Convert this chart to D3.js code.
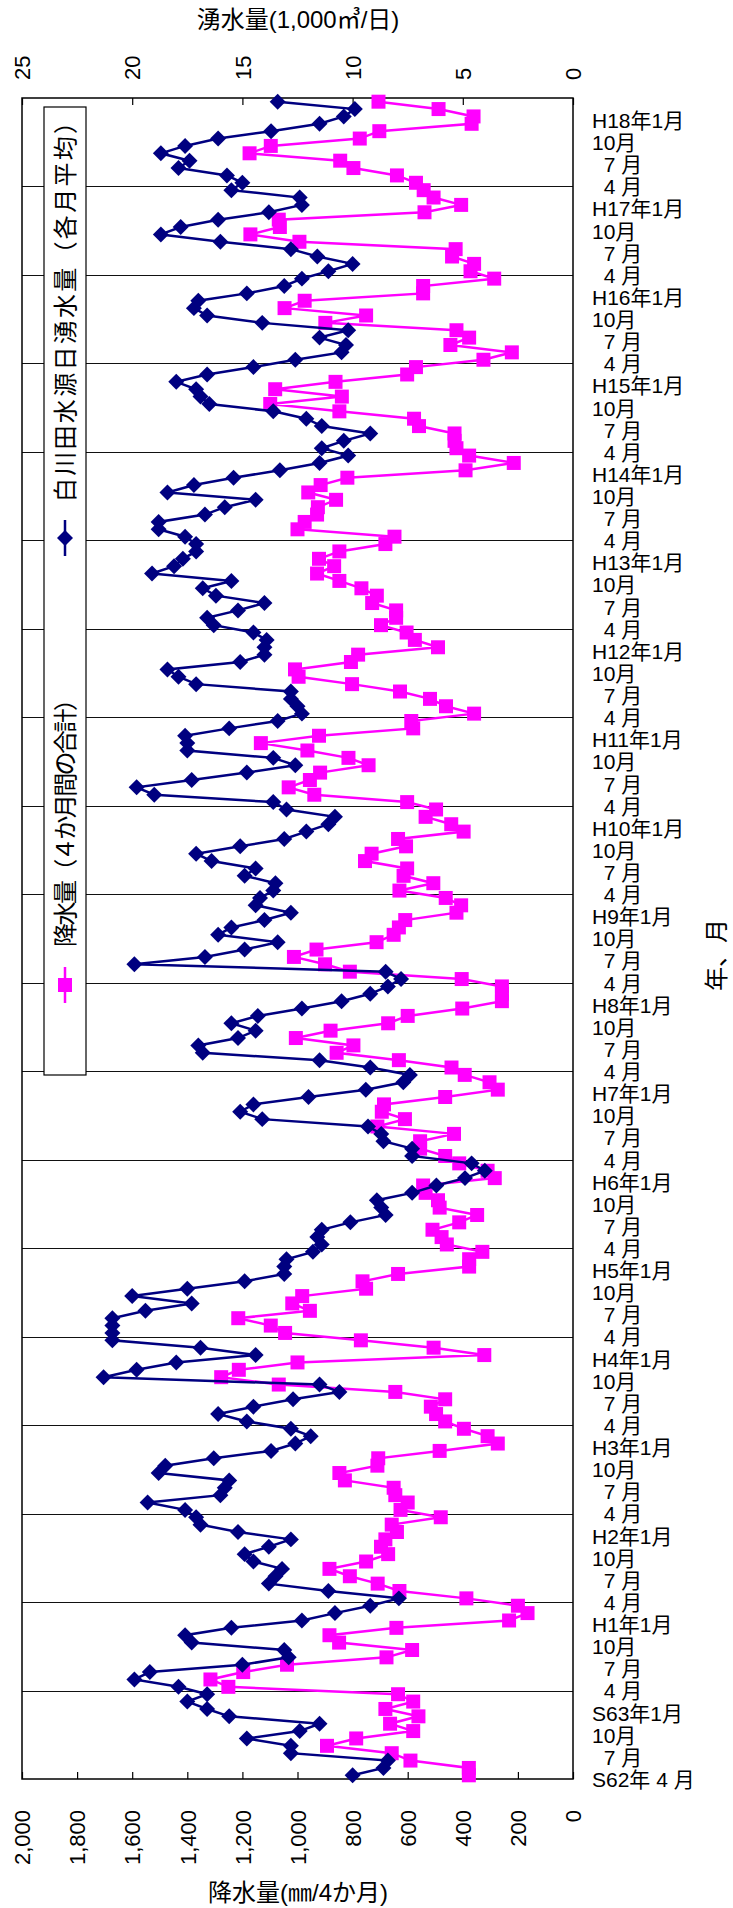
<!DOCTYPE html>
<html><head><meta charset="utf-8">
<script src="https://cdn.jsdelivr.net/npm/d3@7"></script>
<style>
body{margin:0;background:#fff}
svg text{font-family:"Liberation Sans","Noto Sans CJK JP",sans-serif;}
.pre{white-space:pre}
</style>
</head><body>
<svg id="c" width="733" height="1908"></svg>
<script>
// 白川田水源日湧水量（各月平均）, 1,000 m3/day, monthly from S62年4月
const flow = [
10.0, 8.6, 8.4, 12.8, 12.8, 14.8, 12.4, 11.5, 15.6, 16.6, 17.5, 16.6, 17.9, 19.9, 19.2, 15.0, 12.9, 13.1, 17.3, 17.6, 15.5, 12.3, 10.8, 9.2, 7.9, 11.1, 13.8, 13.5, 13.2, 14.5, 14.9, 13.8, 12.8, 15.2, 16.9, 17.1, 17.6, 19.3, 16.0,
15.8, 15.6, 18.8, 18.5, 16.3, 13.7, 12.6, 11.9, 12.8, 14.8, 16.1, 14.5, 12.7, 10.6, 11.5, 21.3, 19.8, 18.0, 14.4, 16.9, 20.9, 20.9, 20.9, 20.9, 19.4, 17.3, 20.0, 17.5, 14.9, 13.1, 13.1, 13.0, 11.8, 11.4, 11.6, 11.4, 10.1, 8.5,
8.7, 8.9, 7.3, 6.2, 4.9, 4.0, 4.6, 7.3, 7.3, 8.6, 8.7, 9.3, 14.1, 15.1, 14.5, 12.0, 9.4, 7.7, 7.4, 9.2, 11.5, 16.8, 17.0, 15.2, 14.4, 15.5, 14.3, 12.3, 10.5, 9.2, 8.4, 7.8, 8.5, 19.9, 16.7, 14.9, 13.4, 16.1,
15.5, 14.0, 12.8, 14.4, 14.2, 13.6, 13.5, 14.9, 14.4, 16.4, 17.1, 15.1, 13.1, 12.1, 11.1, 10.8, 13.0, 13.6, 19.0, 19.8, 17.3, 14.8, 12.6, 13.6, 17.5, 17.5, 17.6, 15.6, 13.4, 12.3, 12.5, 12.8, 12.8, 17.1, 17.9, 18.4, 15.1, 14.0,
14.0, 13.9, 14.5, 16.3, 16.6, 15.2, 14.0, 16.2, 16.8, 15.5, 19.1, 18.1, 17.7, 17.1, 17.1, 17.6, 18.8, 18.8, 16.7, 15.8, 14.4, 18.4, 17.2, 15.4, 13.3, 11.5, 10.2, 11.4, 10.4, 9.2, 11.4, 12.1, 13.6, 16.5, 16.9, 17.1, 18.0, 16.6,
14.5, 12.6, 10.5, 10.3, 11.5, 10.2, 14.1, 16.6, 17.2, 17.0, 14.8, 13.1, 12.3, 11.1, 10.0, 11.6, 12.8, 16.0, 18.7, 17.8, 16.1, 13.8, 12.3, 12.4, 15.5, 15.0, 15.7, 17.9, 17.4, 18.7, 17.6, 16.1, 13.7, 11.5, 10.4, 9.9, 13.4
];
// 降水量（４か月間の合計）, mm
const rain = [
378, 378, 590, 658, 893, 787, 580, 664, 561, 681, 580, 635, 1251, 1316, 1197, 1038, 677, 584, 849, 884, 641, 232, 165, 200, 387, 630, 709, 810, 884, 751, 671, 697, 681, 639, 658, 480, 626, 600, 645,
651, 828, 848, 710, 707, 484, 273, 310, 396, 464, 497, 516, 464, 645, 1068, 1277, 1213, 1000, 322, 506, 770, 1045, 1097, 1215, 955, 1019, 983, 751, 764, 635, 377, 377, 329, 458, 477, 510, 413, 348,
484, 490, 535, 544, 284, 310, 413, 464, 555, 555, 432, 710, 610, 694, 686, 464, 273, 303, 393, 441, 632, 858, 797, 1006, 880, 671, 600, 402, 258, 258, 258, 404, 810, 900, 1013, 931, 713, 651,
632, 609, 423, 406, 462, 630, 507, 615, 602, 755, 731, 606, 635, 397, 442, 535, 497, 602, 939, 1032, 955, 918, 742, 815, 964, 1133, 922, 580, 587, 359, 461, 519, 628, 802, 996, 1009, 806, 780,
490, 574, 604, 697, 642, 642, 729, 712, 768, 848, 929, 867, 922, 848, 681, 648, 1000, 974, 929, 926, 860, 961, 916, 819, 390, 215, 377, 423, 430, 430, 559, 577, 848, 1099, 839, 1081, 862, 602,
570, 325, 222, 445, 377, 423, 899, 751, 1047, 974, 544, 544, 286, 372, 359, 439, 426, 993, 1171, 1064, 1068, 539, 406, 506, 542, 570, 639, 797, 845, 1174, 1097, 774, 703, 368, 361, 488, 706
];
const F = "\u2007";
const catLabels = [
"S62年 4 月", F+"7 月", "10月",
"S63年1月", F+"4 月", F+"7 月", "10月",
"H1年1月", F+"4 月", F+"7 月", "10月",
"H2年1月", F+"4 月", F+"7 月", "10月",
"H3年1月", F+"4 月", F+"7 月", "10月",
"H4年1月", F+"4 月", F+"7 月", "10月",
"H5年1月", F+"4 月", F+"7 月", "10月",
"H6年1月", F+"4 月", F+"7 月", "10月",
"H7年1月", F+"4 月", F+"7 月", "10月",
"H8年1月", F+"4 月", F+"7 月", "10月",
"H9年1月", F+"4 月", F+"7 月", "10月",
"H10年1月", F+"4 月", F+"7 月", "10月",
"H11年1月", F+"4 月", F+"7 月", "10月",
"H12年1月", F+"4 月", F+"7 月", "10月",
"H13年1月", F+"4 月", F+"7 月", "10月",
"H14年1月", F+"4 月", F+"7 月", "10月",
"H15年1月", F+"4 月", F+"7 月", "10月",
"H16年1月", F+"4 月", F+"7 月", "10月",
"H17年1月", F+"4 月", F+"7 月", "10月",
"H18年1月"
];
const flowTicks = [0, 5, 10, 15, 20, 25];
const rainTicks = [0, 200, 400, 600, 800, 1000, 1200, 1400, 1600, 1800, 2000];
const legendLabels = ["白川田水源日湧水量（各月平均）", "降水量（４か月間の合計）"];
const titles = {top: "湧水量(1,000㎥/日)", bottom: "降水量(㎜/4か月)", cat: "年、月"};

const FONT = '"Liberation Sans","Noto Sans CJK JP",sans-serif';
const NAVY = "#000080", MAG = "#FF00FF";
const plot = {l: 22, r: 573, t: 98, b: 1779};
const nCat = flow.length;

const svg = d3.select("#c");
svg.append("rect").attr("width", 733).attr("height", 1908).attr("fill", "#fff");

const y = d3.scaleLinear().domain([0, nCat]).range([plot.b, plot.t]);
const xFlow = d3.scaleLinear().domain([0, 25]).range([plot.r, plot.l]);
const xRain = d3.scaleLinear().domain([0, 2000]).range([plot.r, plot.l]);

// gridlines at each 4月 boundary
svg.append("g").selectAll("line").data(d3.range(12, nCat, 12)).join("line")
  .attr("x1", plot.l).attr("x2", plot.r)
  .attr("y1", d => Math.round(y(d)) + 0.5).attr("y2", d => Math.round(y(d)) + 0.5)
  .attr("stroke", "#111").attr("stroke-width", 1);

// top axis (flow)
const gTop = svg.append("g").attr("transform", `translate(0,${plot.t})`)
  .call(d3.axisTop(xFlow).tickValues(flowTicks).tickSize(-7).tickFormat(d3.format("d")))
  .attr("font-family", FONT).attr("font-size", 22);
gTop.select(".domain").remove();
gTop.selectAll("line").attr("stroke", "#000").attr("stroke-width", 1.2);
gTop.selectAll("text").attr("transform", "rotate(-90)").attr("x", 18).attr("y", 0)
  .attr("dy", "0.35em").attr("text-anchor", "start").attr("fill", "#000");

// bottom axis (rain)
const gBot = svg.append("g").attr("transform", `translate(0,${plot.b})`)
  .call(d3.axisBottom(xRain).tickValues(rainTicks).tickSize(-7).tickFormat(d3.format(",")))
  .attr("font-family", FONT).attr("font-size", 22);
gBot.select(".domain").remove();
gBot.selectAll("line").attr("stroke", "#000").attr("stroke-width", 1.2);
gBot.selectAll("text").attr("transform", "rotate(-90)").attr("x", -31).attr("y", 0)
  .attr("dy", "0.35em").attr("text-anchor", "end").attr("fill", "#000");

// right category axis
const gR = svg.append("g").attr("transform", `translate(${plot.r},0)`)
  .call(d3.axisRight(y).tickValues(d3.range(0, nCat, 3)).tickSize(0).tickFormat((d, i) => catLabels[i]))
  .attr("font-family", FONT).attr("font-size", 21);
gR.select(".domain").remove();
gR.selectAll("text").attr("x", 19).attr("dy", "0.35em").attr("class", "pre").attr("fill", "#000");

// frame
svg.append("rect").attr("x", plot.l).attr("y", plot.t)
  .attr("width", plot.r - plot.l).attr("height", plot.b - plot.t)
  .attr("fill", "none").attr("stroke", "#000").attr("stroke-width", 1.5);

// rain series
const cy = (d, i) => y(i + 0.5);
svg.append("path").datum(rain)
  .attr("d", d3.line().x(d => xRain(d)).y(cy))
  .attr("fill", "none").attr("stroke", MAG).attr("stroke-width", 2.5);
const sq = d3.symbol(d3.symbolSquare, 14 * 14);
svg.append("g").selectAll("path").data(rain).join("path")
  .attr("d", sq).attr("fill", MAG)
  .attr("transform", (d, i) => `translate(${xRain(d)},${cy(d, i)})`);

// flow series
svg.append("path").datum(flow)
  .attr("d", d3.line().x(d => xFlow(d)).y(cy))
  .attr("fill", "none").attr("stroke", NAVY).attr("stroke-width", 2.5);
const dm = d3.symbol(d3.symbolSquare, 11.3 * 11.3);
svg.append("g").selectAll("path").data(flow).join("path")
  .attr("d", dm).attr("fill", NAVY)
  .attr("transform", (d, i) => `translate(${xFlow(d)},${cy(d, i)}) rotate(45)`);

// legend
const lg = svg.append("g");
lg.append("rect").attr("x", 44).attr("y", 107).attr("width", 42).attr("height", 968)
  .attr("fill", "#fff").attr("stroke", "#000").attr("stroke-width", 1.2);
const items = [
  {label: legendLabels[0], color: NAVY, sym: dm, rot: 45, mid: 538, tBot: 502, tTop: 110},
  {label: legendLabels[1], color: MAG, sym: sq, rot: 0, mid: 985, tBot: 947, tTop: 687}
];
items.forEach(it => {
  lg.append("line").attr("x1", 65).attr("x2", 65).attr("y1", it.mid - 18).attr("y2", it.mid + 18)
    .attr("stroke", it.color).attr("stroke-width", 2.5);
  lg.append("path").attr("d", it.sym).attr("fill", it.color)
    .attr("transform", `translate(65,${it.mid}) rotate(${it.rot})`);
  lg.append("text").attr("transform", `translate(65,${it.tBot}) rotate(-90)`)
    .attr("dy", "0.36em").attr("font-size", 24).attr("font-family", FONT)
    .attr("textLength", it.tBot - it.tTop).attr("lengthAdjust", "spacing")
    .text(it.label);
});

// titles
svg.append("text").attr("x", 298).attr("y", 28).attr("text-anchor", "middle")
  .attr("font-size", 24).attr("font-family", FONT).text(titles.top);
svg.append("text").attr("x", 298).attr("y", 1901).attr("text-anchor", "middle")
  .attr("font-size", 24).attr("font-family", FONT).text(titles.bottom);
svg.append("text").attr("transform", "translate(716,955) rotate(-90)").attr("text-anchor", "middle")
  .attr("dy", "0.36em").attr("font-size", 24).attr("font-family", FONT).text(titles.cat);
</script>
</body></html>
